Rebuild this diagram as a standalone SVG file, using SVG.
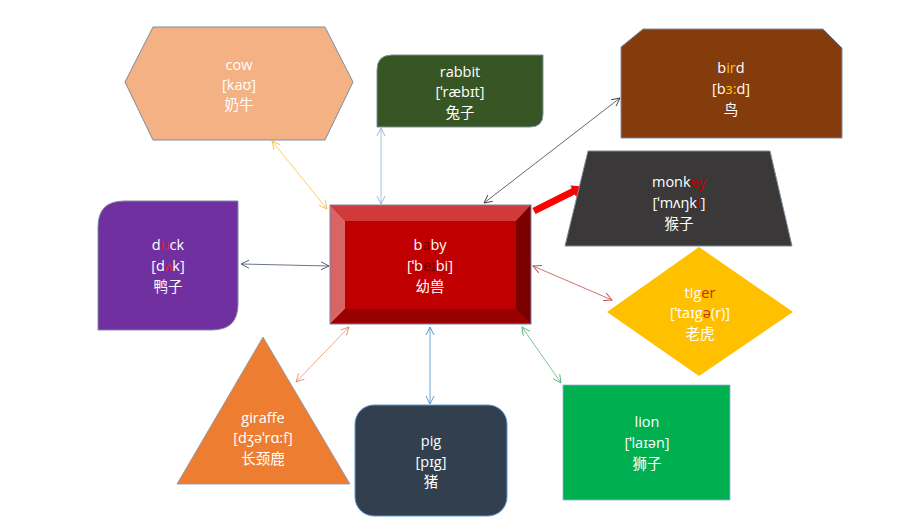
<svg xmlns="http://www.w3.org/2000/svg" width="920" height="518" viewBox="0 0 920 518">
<defs>
<style>
text{font-family:"Open Sans","Noto Sans","Noto Sans CJK SC",sans-serif;font-size:14.5px;fill:#FFFFFF;text-anchor:middle}
.conn{fill:none;stroke-width:0.8}
.shape{stroke:#7F8C9F;stroke-width:1}
</style>
<marker id="ahOr" markerWidth="10" markerHeight="10" refX="9" refY="5" orient="auto-start-reverse" markerUnits="userSpaceOnUse"><path d="M1,1 L9,5 L1,9" fill="none" stroke="#F5C242" stroke-width="0.9"/></marker>
<marker id="ahLb" markerWidth="10" markerHeight="10" refX="9" refY="5" orient="auto-start-reverse" markerUnits="userSpaceOnUse"><path d="M1,1 L9,5 L1,9" fill="none" stroke="#8FB3D9" stroke-width="0.9"/></marker>
<marker id="ahGy" markerWidth="10" markerHeight="10" refX="9" refY="5" orient="auto-start-reverse" markerUnits="userSpaceOnUse"><path d="M1,1 L9,5 L1,9" fill="none" stroke="#404040" stroke-width="0.9"/></marker>
<marker id="ahDb" markerWidth="10" markerHeight="10" refX="9" refY="5" orient="auto-start-reverse" markerUnits="userSpaceOnUse"><path d="M1,1 L9,5 L1,9" fill="none" stroke="#44546A" stroke-width="0.9"/></marker>
<marker id="ahRd" markerWidth="10" markerHeight="10" refX="9" refY="5" orient="auto-start-reverse" markerUnits="userSpaceOnUse"><path d="M1,1 L9,5 L1,9" fill="none" stroke="#C0504D" stroke-width="0.9"/></marker>
<marker id="ahOb" markerWidth="10" markerHeight="10" refX="9" refY="5" orient="auto-start-reverse" markerUnits="userSpaceOnUse"><path d="M1,1 L9,5 L1,9" fill="none" stroke="#E9906A" stroke-width="0.9"/></marker>
<marker id="ahBl" markerWidth="10" markerHeight="10" refX="9" refY="5" orient="auto-start-reverse" markerUnits="userSpaceOnUse"><path d="M1,1 L9,5 L1,9" fill="none" stroke="#4A90C8" stroke-width="0.9"/></marker>
<marker id="ahGn" markerWidth="10" markerHeight="10" refX="9" refY="5" orient="auto-start-reverse" markerUnits="userSpaceOnUse"><path d="M1,1 L9,5 L1,9" fill="none" stroke="#5BB57A" stroke-width="0.9"/></marker>
</defs>
<rect width="920" height="518" fill="#FFFFFF"/>

<g id="connectors">
<line class="conn" x1="272" y1="141" x2="327" y2="209" stroke="#F5C242" marker-start="url(#ahOr)" marker-end="url(#ahOr)"/>
<line class="conn" x1="381" y1="128" x2="381" y2="204" stroke="#8FB3D9" marker-start="url(#ahLb)" marker-end="url(#ahLb)"/>
<line class="conn" x1="484" y1="203" x2="620" y2="98" stroke="#404040" marker-start="url(#ahGy)" marker-end="url(#ahGy)"/>
<line class="conn" x1="241" y1="264" x2="329" y2="266" stroke="#44546A" marker-start="url(#ahDb)" marker-end="url(#ahDb)"/>
<line class="conn" x1="533" y1="266" x2="612" y2="300" stroke="#C0504D" marker-start="url(#ahRd)" marker-end="url(#ahRd)"/>
<line class="conn" x1="296" y1="382" x2="349" y2="327" stroke="#E9906A" marker-start="url(#ahOb)" marker-end="url(#ahOb)"/>
<line class="conn" x1="430" y1="327" x2="430" y2="404" stroke="#4A90C8" marker-start="url(#ahBl)" marker-end="url(#ahBl)"/>
<line class="conn" x1="522" y1="327" x2="561" y2="383" stroke="#5BB57A" marker-start="url(#ahGn)" marker-end="url(#ahGn)"/>
<polygon points="535.6,214.1 532.4,207.9 571.7,188.2 570.4,185.5 583.2,186.4 576.2,197.1 574.9,194.4" fill="#FF0000"/>
</g>

<g id="cow">
<polygon class="shape" points="125,82 153,27 325,27 353,82 325,140 153,140" fill="#F4B183"/>
<text x="239" y="70">cow</text>
<text x="239" y="90">[kaʊ]</text>
<text x="239" y="110">奶牛</text>
</g>

<g id="rabbit">
<path class="shape" d="M392,55 L543,55 L543,114 Q543,127 530,127 L377,127 L377,70 Q377,55 392,55 Z" fill="#375623" stroke="#8FB3D9"/>
<text x="460" y="77">rabbit</text>
<text x="460" y="97">[ˈræbɪt]</text>
<text x="460" y="118">兔子</text>
</g>

<g id="bird">
<polygon class="shape" points="621,47 643,29 823,29 842,48 842,138 621,138" fill="#843C0C"/>
<text x="731" y="73"><tspan>b</tspan><tspan fill="#FFC000">ir</tspan><tspan>d</tspan></text>
<text x="731" y="94"><tspan>[b</tspan><tspan fill="#FFC000">ɜ:</tspan><tspan>d]</tspan></text>
<text x="731" y="115">鸟</text>
</g>

<g id="monkey">
<polygon class="shape" points="588,151 770,151 792,246 565,246" fill="#3A3838" stroke="#5F7FA0"/>
<text x="679" y="187"><tspan>monk</tspan><tspan fill="#C00000">ey</tspan></text>
<text x="679" y="208"><tspan>[ˈmʌŋk</tspan><tspan fill="#C00000">i</tspan><tspan>]</tspan></text>
<text x="679" y="229">猴子</text>
</g>

<g id="baby">
<rect x="330" y="205" width="201" height="119" fill="#C00000"/>
<polygon points="330,205 531,205 516,221 345,221" fill="#D03A3A"/>
<polygon points="330,205 345,221 345,309 330,324" fill="#D96464"/>
<polygon points="531,205 531,324 516,309 516,221" fill="#7A0000"/>
<polygon points="330,324 345,309 516,309 531,324" fill="#990000"/>
<rect x="345" y="221" width="171" height="88" fill="#C00000"/>
<rect x="330" y="205" width="201" height="119" fill="none" stroke="#7F7FA8" stroke-width="1"/>
<text x="430" y="250"><tspan>b</tspan><tspan fill="#6A0000">a</tspan><tspan>by</tspan></text>
<text x="430" y="271"><tspan>[ˈb</tspan><tspan fill="#6A0000">eɪ</tspan><tspan>bi]</tspan></text>
<text x="430" y="292">幼兽</text>
</g>

<g id="tiger">
<polygon points="607,312 699,247 793,312 699,376" fill="#FFC000"/>
<text x="700" y="298"><tspan>tig</tspan><tspan fill="#C0300A">er</tspan></text>
<text x="700" y="318"><tspan>[ˈtaɪg</tspan><tspan fill="#C0300A">ə</tspan><tspan>(r)]</tspan></text>
<text x="700" y="339">老虎</text>
</g>

<g id="duck">
<path class="shape" d="M124,201 L238,201 L238,304 Q238,330 212,330 L98,330 L98,227 Q98,201 124,201 Z" fill="#7030A0"/>
<text x="168" y="250"><tspan>d</tspan><tspan fill="#E02020">u</tspan><tspan>ck</tspan></text>
<text x="168" y="271"><tspan>[d</tspan><tspan fill="#E02020">ʌ</tspan><tspan>k]</tspan></text>
<text x="168" y="292">鸭子</text>
</g>

<g id="giraffe">
<polygon points="263,337 350,484 177,484" fill="#ED7D31" stroke="#8497B0" stroke-width="0.8"/>
<text x="263" y="423">giraffe</text>
<text x="263" y="443">[dʒəˈrɑ:f]</text>
<text x="263" y="464">长颈鹿</text>
</g>

<g id="pig">
<rect x="355" y="405" width="152" height="111" rx="19" ry="19" fill="#323F4F" stroke="#5B9BD5" stroke-width="1"/>
<text x="431" y="446">pig</text>
<text x="431" y="467">[pɪg]</text>
<text x="431" y="487">猪</text>
</g>

<g id="lion">
<rect x="563" y="385" width="167" height="115" fill="#00B050" stroke="#8FB3D9" stroke-width="0.8"/>
<text x="647" y="427">lion</text>
<text x="647" y="448">[ˈlaɪən]</text>
<text x="647" y="469">狮子</text>
</g>
</svg>
